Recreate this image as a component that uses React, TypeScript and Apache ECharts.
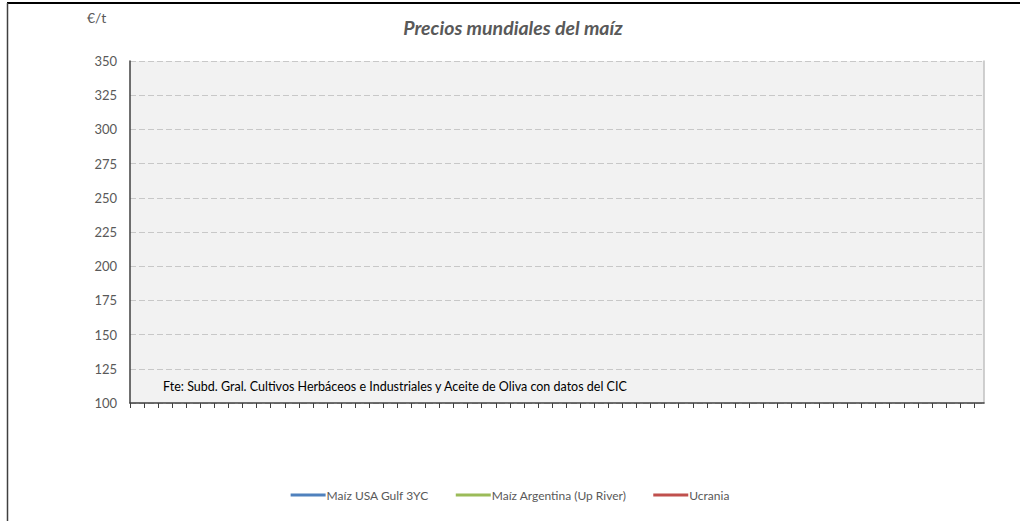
import React, { useEffect, useRef } from "react";
import * as echarts from "echarts";

const title = "Precios mundiales del maíz";
const unitLabel = "€/t";
const sourceNote = "Fte: Subd. Gral. Cultivos Herbáceos e Industriales y Aceite de Oliva con datos del CIC";
const seriesNames = ["Maíz USA Gulf 3YC", "Maíz Argentina (Up River)", "Ucrania"];
const seriesColors = ["#4f81bd", "#9bbb59", "#c0504d"];
// The reference shows no plotted data: every series is empty.
const usaGulf: number[][] = [];
const argentina: number[][] = [];
const ucrania: number[][] = [];
const yMin = 100;
const yMax = 350;
const yStep = 25;
const xTickCount = 61;
const xTicks = Array.from({ length: xTickCount }, (_, i) => i);
const xMax = 60.7;

const FONT = "Lato, 'Open Sans', sans-serif";

export default function App() {
  const ref = useRef<HTMLDivElement>(null);
  useEffect(() => {
    if (!ref.current) return;
    const chart = echarts.init(ref.current, undefined, { renderer: "svg" });
    const seriesData = [usaGulf, argentina, ucrania];
    chart.setOption({
      animation: false,
      backgroundColor: "#ffffff",
      textStyle: { fontFamily: FONT },
      title: {
        text: title,
        left: 508,
        textAlign: "center",
        top: 12,
        textStyle: {
          fontFamily: FONT,
          fontSize: 19.5,
          fontWeight: "bold",
          fontStyle: "italic",
          color: "#595959",
        },
      },
      legend: {
        bottom: 15,
        left: "center",
        icon: "rect",
        itemWidth: 35,
        itemHeight: 3,
        itemGap: 27,
        textStyle: { fontFamily: FONT, fontSize: 12, color: "#595959", padding: [0, 0, 0, -4] },
        data: seriesNames,
      },
      grid: {
        left: 130,
        right: 36,
        top: 61,
        bottom: 118,
        show: true,
        backgroundColor: "#f2f2f2",
        borderWidth: 0,
      },
      xAxis: {
        type: "value",
        min: 0,
        max: xMax,
        interval: 1,
        axisLine: { show: true, onZero: false, lineStyle: { color: "#404040", width: 1.5 } },
        axisTick: {
          show: true,
          length: 5,
          customValues: xTicks,
          lineStyle: { color: "#404040", width: 1 },
        },
        axisLabel: { show: false },
        splitLine: { show: false },
      },
      yAxis: [
        {
          type: "value",
          min: yMin,
          max: yMax,
          interval: yStep,
          axisLine: { show: true, lineStyle: { color: "#404040", width: 1.5 } },
          axisTick: { show: false },
          axisLabel: { fontFamily: FONT, fontSize: 13, color: "#595959", margin: 13 },
          splitLine: { show: true, lineStyle: { color: "#c8c8c8", type: [6, 3], width: 1 } },
        },
        {
          type: "value",
          position: "right",
          min: yMin,
          max: yMax,
          interval: yStep,
          axisLine: { show: true, lineStyle: { color: "#c0c0c0", width: 1.5 } },
          axisTick: { show: false },
          axisLabel: { show: false },
          splitLine: { show: false },
        },
      ],
      graphic: [
        {
          type: "text",
          left: 87,
          top: 10,
          style: { text: unitLabel, font: `14px ${FONT}`, fill: "#595959" },
        },
        {
          type: "text",
          left: 163,
          top: 380,
          style: { text: sourceNote, font: `12.5px ${FONT}`, fill: "#000000" },
        },
        {
          type: "line",
          shape: { x1: 7, y1: 3, x2: 1020, y2: 3 },
          style: { stroke: "#000000", lineWidth: 2 },
        },
        {
          type: "line",
          shape: { x1: 7.5, y1: 3, x2: 7.5, y2: 521 },
          style: { stroke: "#404040", lineWidth: 1.5 },
        },
      ],
      series: seriesNames.map((name, i) => ({
        name,
        type: "line",
        yAxisIndex: 0,
        showSymbol: false,
        data: seriesData[i],
        itemStyle: { color: seriesColors[i] },
        lineStyle: { color: seriesColors[i], width: 2.5 },
      })),
    });
    return () => chart.dispose();
  }, []);
  return (
    <div
      ref={ref}
      style={{ position: "fixed", left: 0, top: 0, width: 1020, height: 521 }}
    />
  );
}
